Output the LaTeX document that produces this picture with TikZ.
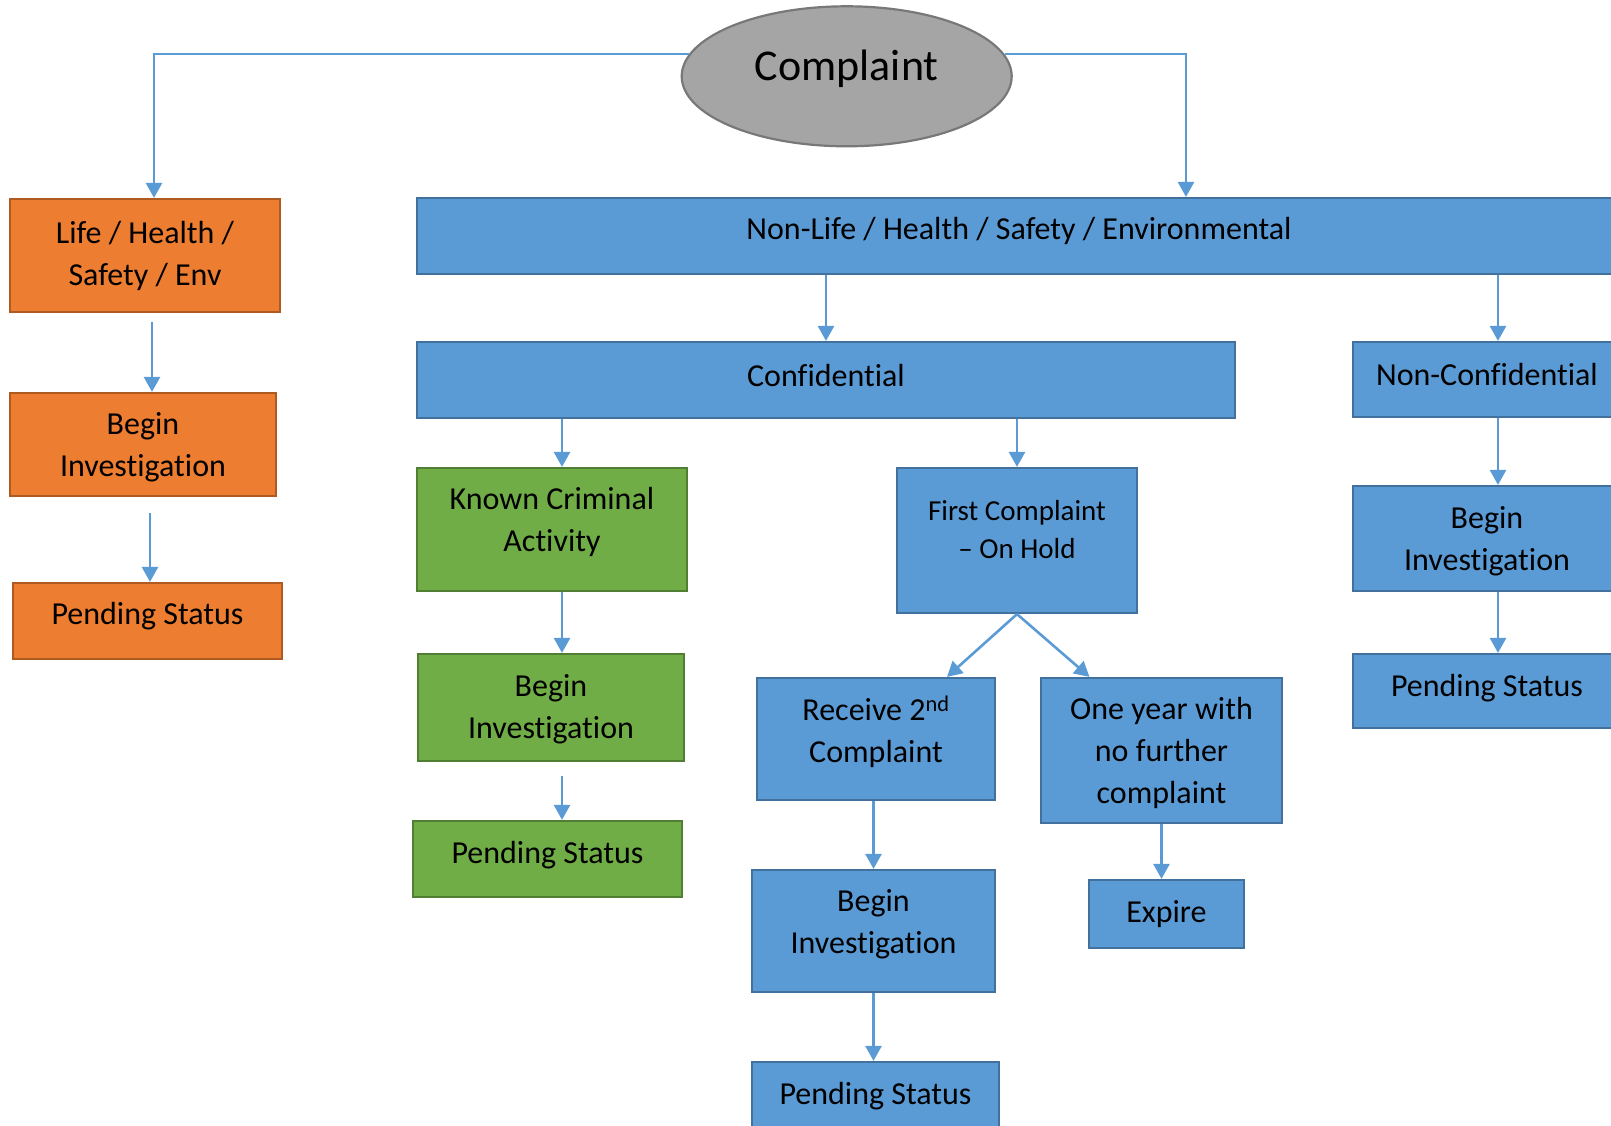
\documentclass[tikz,border=0pt]{standalone}
\usepackage{fontspec}
\setmainfont{Carlito}[Ligatures=NoCommon]
\usetikzlibrary{arrows.meta,shapes.geometric}

\definecolor{lifefill}{HTML}{ED7D31}
\definecolor{lifeline}{HTML}{AE5A21}
\definecolor{crimefill}{HTML}{70AD47}
\definecolor{crimeline}{HTML}{507E32}
\definecolor{casefill}{HTML}{5B9BD5}
\definecolor{caseline}{HTML}{41719C}
\definecolor{intakefill}{HTML}{A5A5A5}
\definecolor{intakeline}{HTML}{787878}
\definecolor{arrowblue}{HTML}{5B9BD5}

\begin{document}
\begin{tikzpicture}[x=1pt, y=-1pt,
  % === Node styles ===
  flowbox/.style={
    draw, line width=2.2pt,
    align=center, inner sep=4pt,
    font=\fontsize{32}{42}\selectfont
  },
  dims/.style 2 args={minimum width=#1, minimum height=#2},
  lifebox/.style={flowbox, fill=lifefill, draw=lifeline},
  crimebox/.style={flowbox, fill=crimefill, draw=crimeline},
  casebox/.style={flowbox, fill=casefill, draw=caseline},
  intake/.style={
    ellipse, draw=intakeline, fill=intakefill, line width=2.2pt,
    minimum width=330pt, minimum height=140pt,
    font=\fontsize{44}{52}\selectfont, text depth=22pt
  },
  % === Arrow styles ===
  arr/.style={-{Triangle[width=16pt,length=15pt]}, line width=2.6pt, draw=arrowblue},
]

% frame of the page (the right and bottom boxes run off it)
\path[use as bounding box, clip] (0,0) rectangle (1611,1126);

% =============================================
% Top: the complaint
% =============================================
\node[intake] (complaint) at (846.7,76.3) {Complaint};

% =============================================
% Left branch: Life / Health / Safety / Env
% =============================================
\node[lifebox, dims={270pt}{113pt}] (life) at (145,255.5) {Life / Health /\\Safety / Env};
\node[lifebox, dims={266pt}{103pt}, text depth=0pt] (lifeinv) at (143,444.5) {Begin\\Investigation};
\node[lifebox, dims={269pt}{76pt}, text depth=15pt] (lifepend) at (147.5,621) {Pending Status};

% =============================================
% Right branch: Non-Life / Health / Safety / Environmental
% =============================================
\node[casebox, dims={1204pt}{76pt}, text depth=15pt] (nonlife) at (1019,236) {Non-Life / Health / Safety / Environmental};
\node[casebox, dims={818pt}{76pt}, text depth=10pt] (conf) at (826,380) {Confidential};
\node[casebox, dims={268pt}{75pt}, text depth=10pt] (nonconf) at (1487,379.5) {Non-Confidential};

% Confidential: known criminal activity
\node[crimebox, dims={270pt}{123pt}, text depth=21pt] (crime) at (552,529.5) {Known Criminal\\Activity};
\node[crimebox, dims={266pt}{107pt}, text depth=3pt] (crimeinv) at (551,707.5) {Begin\\Investigation};
\node[crimebox, dims={269pt}{76pt}, text depth=13pt] (crimepend) at (547.5,859) {Pending Status};

% Confidential: first complaint on hold
\node[casebox, dims={240pt}{145pt}, font=\fontsize{29}{38}\selectfont, text depth=22pt] (first) at (1017,540.5) {First Complaint\\– On Hold};
\node[casebox, dims={238pt}{122pt}, text depth=19pt] (second) at (876,739) {Receive 2\textsuperscript{nd}\\Complaint};
\node[casebox, dims={241pt}{145pt}, text depth=0pt] (oneyear) at (1161.5,750.5) {One year with\\no further\\complaint};
\node[casebox, dims={243pt}{122pt}, text depth=19pt] (secinv) at (873.5,931) {Begin\\Investigation};
\node[casebox, dims={247pt}{76pt}, text depth=13pt] (secpend) at (875.5,1100) {Pending Status};
\node[casebox, dims={155pt}{68pt}] (expire) at (1166.5,914) {Expire};

% Non-confidential
\node[casebox, dims={268pt}{105pt}, text depth=0pt] (ncinv) at (1487,538.5) {Begin\\Investigation};
\node[casebox, dims={268pt}{74pt}, text depth=11pt] (ncpend) at (1487,691) {Pending Status};

% =============================================
% Arrows
% =============================================
\draw[arr] (complaint.172) -| ([xshift=9pt]life.north);
\draw[arr] (complaint.8) -| ([xshift=167pt]nonlife.north);

% left column (the lines stand off the box above)
\draw[arr] ([xshift=7pt,yshift=-9pt]life.south) -- ([xshift=9pt]lifeinv.north);
\draw[arr] ([xshift=7pt,yshift=-16pt]lifeinv.south) -- ([xshift=2.5pt]lifepend.north);

% non-life split
\draw[arr] (conf.north |- nonlife.south) -- (conf.north);
\draw[arr] ([xshift=11pt]nonconf.north |- nonlife.south) -- ([xshift=11pt]nonconf.north);

% confidential split
\draw[arr] ([xshift=10pt]crime.north |- conf.south) -- ([xshift=10pt]crime.north);
\draw[arr] (first.north |- conf.south) -- (first.north);

% criminal column
\draw[arr] ([xshift=10pt]crime.south) -- ([xshift=11pt]crimeinv.north);
\draw[arr] ([xshift=11pt,yshift=-14pt]crimeinv.south) -- ([xshift=14.5pt]crimepend.north);

% first complaint
\draw[arr] (first.south) -- ([xshift=71pt]second.north);
\draw[arr] (first.south) -- ([xshift=-72pt]oneyear.north);
\draw[arr] (secinv.north |- second.south) -- (secinv.north);
\draw[arr] (secinv.south) -- (secinv.south |- secpend.north);
\draw[arr] (oneyear.south) -- (oneyear.south |- expire.north);

% non-confidential column
\draw[arr] ([xshift=11pt]nonconf.south) -- ([xshift=11pt]ncinv.north);
\draw[arr] ([xshift=11pt]ncinv.south) -- ([xshift=11pt]ncpend.north);

\end{tikzpicture}
\end{document}
